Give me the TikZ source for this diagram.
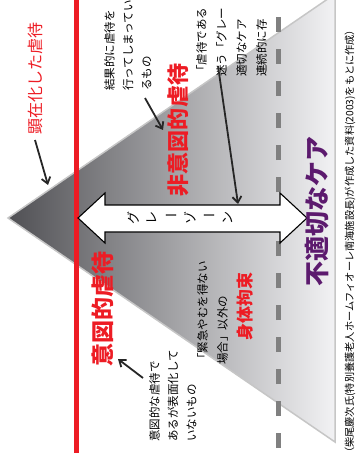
\documentclass[tikz,border=0pt]{standalone}
\usepackage{fontspec}
\newfontfamily\jp{Noto Sans CJK JP}
\usetikzlibrary{arrows.meta}
\definecolor{abusered}{RGB}{237,28,36}
\definecolor{carepurple}{RGB}{92,26,110}
\definecolor{zonegray}{RGB}{128,128,128}

\tikzset{
  vlabel/.style={rotate=90, inner sep=0pt, font=\jp},
  note/.style={rotate=90, inner sep=0pt, align=left, anchor=north west,
    font=\jp\fontsize{11.5}{18.5}\selectfont},
  pointer/.style={-{Straight Barb[length=6pt,width=9pt]}, line width=1.8pt, black!85},
}

\begin{document}
\begin{tikzpicture}[x=1pt,y=-1pt]
	\useasboundingbox (0,0) rectangle (357,465);
	\clip (0,0) rectangle (357,465);

	% Triangle, dark at the apex
	\path[draw=gray!45, line width=1.5pt, left color={rgb,255:red,80;green,80;blue,84},
		right color={rgb,255:red,242;green,242;blue,244}]
		(8,218) -- (335,-6) -- (335,442) -- cycle;

	% Red boundary
	\draw[abusered, line width=5pt] (76,0) -- (76,453);

	% Dashed boundary
	\draw[zonegray, line width=5pt, dash pattern=on 15pt off 17pt] (278,448) -- (278,-20);

	% Double arrow
	\draw[fill=white, line width=1.1pt]
		(78,218) -- (105,193) -- (105,205) -- (280,205) -- (280,193) -- (307,218)
		-- (280,243) -- (280,232) -- (105,232) -- (105,243) -- cycle;
	% long vowel marks stay unrotated, as in vertical writing
	\foreach \ch/\rot [count=\i from 0] in {グ/90,レ/90,ー/0,ゾ/90,ー/0,ン/90}
		\node[inner sep=0pt, rotate=\rot, font=\jp\fontsize{13}{13}\selectfont] (gz\i) at (133+19*\i,218) {\ch};

	% Large labels
	\node[vlabel, text=abusered, font=\jp\fontsize{16}{16}\selectfont] (overt) at (35,79) {顕在化した虐待};
	\node[vlabel, text=abusered, font=\jp\bfseries\fontsize{22}{22}\selectfont] (unintent) at (178,130) {非意図的虐待};
	\node[vlabel, text=abusered, font=\jp\bfseries\fontsize{23}{23}\selectfont] (intent) at (103,309) {意図的虐待};
	\node[vlabel, text=carepurple, font=\jp\bfseries\fontsize{25}{25}\selectfont] (improper) at (317,211) {不適切なケア};
	\node[vlabel, text=abusered, font=\jp\bfseries\fontsize{17}{17}\selectfont] (restraint) at (245,306) {身体拘束};

	% Notes
	\node[note] (resultnote) at (104,91) {結果的に虐待を\\行ってしまってい\\るもの};
	\node[note] (hiddennote) at (149,442) {意図的な虐待で\\あるが表面化して\\いないもの};
	\node[note, font=\jp\fontsize{11.5}{20}\selectfont] (urgentnote) at (197,365) {「緊急やむを得ない\\場合」以外の};
	\node[note, font=\jp\fontsize{11.5}{20}\selectfont] (greynote) at (196,77) {「虐待である\\迷う「グレー\\適切なケア\\連続的に存};
	\node[vlabel, anchor=west, font=\jp\fontsize{10.2}{10.2}\selectfont] (source) at (350,458)
		{（柴尾慶次氏(特別養護老人ホームフィオーレ南海施設長)が作成した資料(2003)をもとに作成）};

	% Pointers
	\coordinate (overtfrom) at (35,140);
	\coordinate (overttip) at (48,185);
	\coordinate (resultfrom) at (145,98);
	\coordinate (resulttip) at (163,130);
	\coordinate (greyfrom) at (218,66);
	\coordinate (greytip) at (238,204);
	\coordinate (hiddenfrom) at (143,378);
	\coordinate (hiddentip) at (118,359);
	\draw[pointer] (overtfrom) -- (overttip);
	\draw[pointer] (resultfrom) -- (resulttip);
	\draw[pointer] (greyfrom) -- (greytip);
	\draw[pointer] (hiddenfrom) -- (hiddentip);
\end{tikzpicture}
\end{document}
